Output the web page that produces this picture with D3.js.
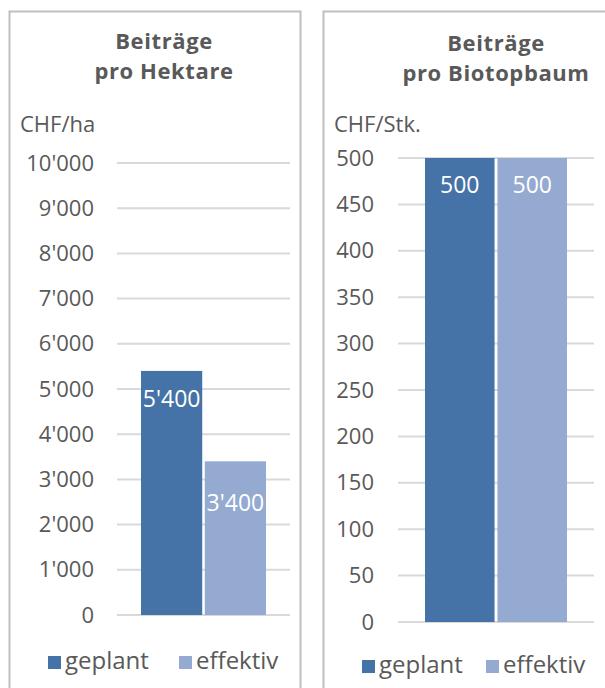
<!DOCTYPE html>
<html>
<head>
<meta charset="utf-8">
<script src="https://cdn.jsdelivr.net/npm/d3@7"></script>
<style>
  body { margin: 0; background: #fff; }
  svg { font-family: "Open Sans", "Noto Sans", sans-serif; }
</style>
</head>
<body>
<svg id="chart" width="605" height="688"></svg>
<script>
// data
var series = ["geplant", "effektiv"];
var colors = ["#4673a7", "#95aad1"];
var haValues = [5400, 3400];
var haTicks = [0, 1000, 2000, 3000, 4000, 5000, 6000, 7000, 8000, 9000, 10000];
var baumValues = [500, 500];
var baumTicks = [0, 50, 100, 150, 200, 250, 300, 350, 400, 450, 500];

var swiss = d3.formatLocale({decimal: ".", thousands: "'", grouping: [3], currency: ["", ""]});
var fmt = swiss.format(",");

var svg = d3.select("#chart");
var grey = "#595959";

function panel(opt) {
  var g = svg.append("g");

  // frame
  g.append("rect")
    .attr("x", opt.box[0] + 0.5).attr("y", 11.5)
    .attr("width", opt.box[1] - opt.box[0]).attr("height", 700)
    .attr("fill", "none").attr("stroke", "#bfbfbf").attr("stroke-width", 2);

  // title, two lines
  opt.title.forEach(function(t, i) {
    g.append("text")
      .attr("x", opt.titleX).attr("y", opt.titleY + i * 30)
      .attr("text-anchor", "middle")
      .attr("font-size", 22).attr("font-weight", "bold")
      .attr("letter-spacing", 0.6)
      .attr("fill", grey).text(t);
  });

  g.append("text")
    .attr("x", opt.unitX).attr("y", 132)
    .attr("font-size", 22).attr("fill", grey).text(opt.unit);

  var y = d3.scaleLinear().domain([0, opt.ticks[opt.ticks.length - 1]]).range(opt.yRange);
  var x = d3.scaleBand().domain(series).range(opt.barRange).paddingInner(0.04);

  // gridlines
  g.selectAll(".grid").data(opt.ticks).enter().append("line")
    .attr("x1", opt.grid[0]).attr("x2", opt.grid[1])
    .attr("y1", function(d) { return y(d); }).attr("y2", function(d) { return y(d); })
    .attr("stroke", "#d9d9d9").attr("stroke-width", 2);

  // y axis
  var axis = g.append("g")
    .attr("transform", "translate(" + opt.tickX + ",0)")
    .call(d3.axisLeft(y).tickValues(opt.ticks).tickFormat(fmt).tickSize(0).tickPadding(0));
  axis.select(".domain").remove();
  axis.selectAll("text")
    .attr("font-size", 22).attr("fill", grey)
    .attr("font-family", "\"Open Sans\", \"Noto Sans\", sans-serif");

  // bars
  g.selectAll(".bar").data(opt.values).enter().append("rect")
    .attr("x", function(d, i) { return x(series[i]); })
    .attr("y", function(d) { return y(d); })
    .attr("width", x.bandwidth())
    .attr("height", function(d) { return y(0) - y(d); })
    .attr("fill", function(d, i) { return colors[i]; });

  // labels
  g.selectAll(".lbl").data(opt.values).enter().append("text")
    .attr("x", function(d, i) { return x(series[i]) + x.bandwidth() / 2; })
    .attr("y", function(d, i) { return y(d) + opt.labelOffset[i]; })
    .attr("text-anchor", "middle")
    .attr("font-size", 23).attr("fill", "#fff")
    .text(function(d) { return fmt(d); });

  // legend
  series.forEach(function(s, i) {
    g.append("rect")
      .attr("x", opt.legendX[i]).attr("y", opt.legendY - 13)
      .attr("width", 13).attr("height", 13)
      .attr("fill", colors[i]);
    g.append("text")
      .attr("x", opt.legendX[i] + 17).attr("y", opt.legendY)
      .attr("font-size", 24).attr("fill", grey).text(s);
  });
}

panel({
  box: [9, 300],
  title: ["Beiträge", "pro Hektare"],
  titleX: 164, titleY: 49,
  unit: "CHF/ha", unitX: 20,
  ticks: haTicks, values: haValues,
  yRange: [615, 163],
  grid: [117, 290],
  tickX: 94,
  barRange: [141, 266],
  labelOffset: [36, 50],
  legendX: [48, 179], legendY: 669
});

panel({
  box: [323, 620],
  title: ["Beiträge", "pro Biotopbaum"],
  titleX: 496, titleY: 51,
  unit: "CHF/Stk.", unitX: 334,
  ticks: baumTicks, values: baumValues,
  yRange: [622, 158],
  grid: [398, 594],
  tickX: 374,
  barRange: [425, 567],
  labelOffset: [35, 35],
  legendX: [362, 486], legendY: 673
});
</script>
</body>
</html>
